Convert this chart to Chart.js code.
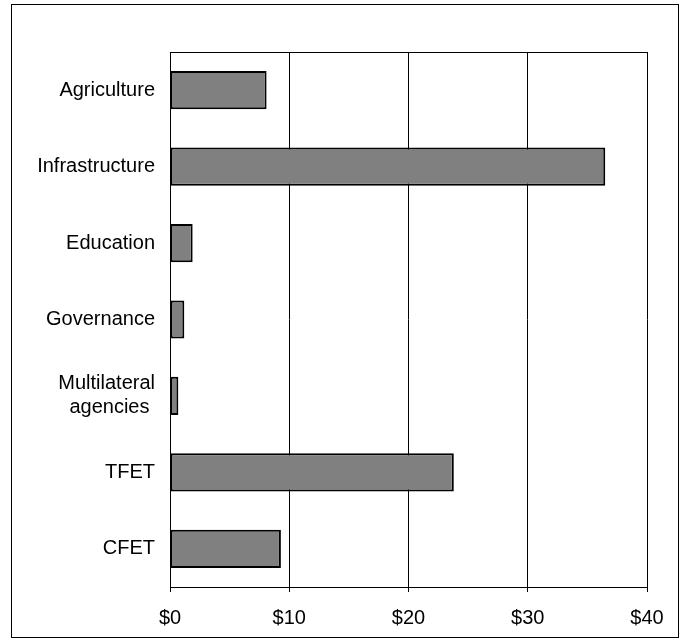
<!DOCTYPE html>
<html lang="en">
  <head>
    <meta charset="UTF-8" />
    <title>Funding by Sector</title>
    <script src="https://cdn.jsdelivr.net/npm/chart.js"></script>
    <style>
      body { margin: 0; background: #fff; }
    </style>
  </head>
  <body>
    <canvas id="sectorChart" width="689" height="641"></canvas>

    <script>
      // data
      const sectors = [
        "Agriculture",
        "Infrastructure",
        "Education",
        "Governance",
        ["Multilateral", "agencies "],
        "TFET",
        "CFET",
      ];
      const amounts = [8.1, 36.5, 1.9, 1.2, 0.7, 23.8, 9.3];
      const xTicks = [0, 10, 20, 30, 40];

      const labelFont = { family: "'Liberation Sans', Arial, sans-serif", size: 20 };

      // outer frame of the chart object and top edge of the plot box
      const framePlugin = {
        id: "frame",
        beforeDatasetsDraw(chart) {
          const { ctx, chartArea } = chart;
          ctx.save();
          ctx.strokeStyle = "#000";
          ctx.lineWidth = 1;
          ctx.beginPath();
          ctx.moveTo(chartArea.left, chartArea.top + 0.5);
          ctx.lineTo(chartArea.right, chartArea.top + 0.5);
          ctx.stroke();
          ctx.restore();
        },
        afterDraw(chart) {
          const ctx = chart.ctx;
          ctx.save();
          ctx.strokeStyle = "#000";
          ctx.lineWidth = 1;
          ctx.strokeRect(11.5, 4.5, 667, 633);
          ctx.restore();
        },
      };

      const ctx = document.getElementById("sectorChart").getContext("2d");
      new Chart(ctx, {
        type: "bar",
        data: {
          labels: sectors,
          datasets: [
            {
              data: amounts,
              backgroundColor: "#808080",
              borderColor: "#000",
              borderWidth: 2,
              borderSkipped: false,
              barPercentage: 0.5,
              categoryPercentage: 1.0,
            },
          ],
        },
        options: {
          indexAxis: "y",
          responsive: false,
          animation: false,
          layout: { padding: { top: 52, right: 42, left: 0, bottom: 0 } },
          plugins: {
            legend: { display: false },
            tooltip: { enabled: false },
          },
          scales: {
            x: {
              min: 0,
              max: 40,
              afterBuildTicks: (scale) => {
                scale.ticks = xTicks.map((v) => ({ value: v }));
              },
              afterFit: (scale) => {
                scale.height = 54;
              },
              grid: { color: "#000", lineWidth: 1, tickLength: 5 },
              border: { color: "#000", width: 1 },
              ticks: {
                color: "#000",
                font: labelFont,
                padding: 14,
                maxRotation: 0,
                callback: (v) => "$" + v,
              },
            },
            y: {
              afterFit: (scale) => {
                scale.width = 170;
              },
              grid: { display: false, drawTicks: false },
              border: { color: "#000", width: 1 },
              ticks: { color: "#000", font: labelFont, padding: 15 },
            },
          },
        },
        plugins: [framePlugin],
      });
    </script>
  </body>
</html>
